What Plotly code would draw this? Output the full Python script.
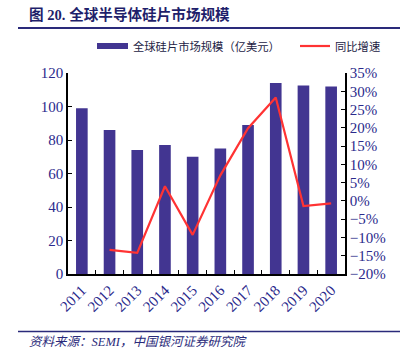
import plotly.graph_objects as go

years = ["2011", "2012", "2013", "2014", "2015", "2016", "2017", "2018", "2019", "2020"]
market = [99, 86, 74, 77, 70, 75, 89, 114, 112.5, 112]
growth_years = ["2012", "2013", "2014", "2015", "2016", "2017", "2018", "2019", "2020"]
growth = [-13.4, -14.2, 4.0, -9.3, 7.0, 19.9, 28.3, -1.4, -0.7]

bar_name = "全球硅片市场规模（亿美元）"
line_name = "同比增速"
title_text = "图 20. 全球半导体硅片市场规模"
source_text = "资料来源：SEMI，中国银河证券研究院"

W, H = 403, 352
L, R, T, B = 68, 345, 73, 274  # plot area in pixels

def px(x):
    return (x - L) / (R - L)

def py(y):
    return (B - y) / (B - T)

BAR = "#423591"
RED = "#FF3333"
NAVY = "#2B2A8C"
SERIF = "Liberation Serif, Noto Sans CJK SC"

fig = go.Figure()
fig.add_trace(go.Bar(x=years, y=market, name=bar_name, marker=dict(color=BAR, line=dict(width=0)),
                     yaxis="y", showlegend=False))
fig.add_trace(go.Scatter(x=growth_years, y=growth, name=line_name, mode="lines",
                         line=dict(color=RED, width=2.2), yaxis="y2", showlegend=False))

fig.update_layout(
    width=W, height=H,
    margin=dict(l=L, r=W - R, t=T, b=H - B, pad=0),
    paper_bgcolor="white", plot_bgcolor="white",
    bargap=0.58,
    xaxis=dict(type="category", tickson="boundaries", ticks="inside", ticklen=4, tickcolor="black",
               showline=True, linecolor="black", linewidth=1.5, tickangle=-45,
               tickfont=dict(family=SERIF, size=15, color=NAVY), showgrid=False,
               range=[-0.5, 9.5]),
    yaxis=dict(range=[0, 120], dtick=20, ticks="inside", ticklen=4, tickcolor="black",
               showline=True, linecolor="black", linewidth=1.5, showgrid=False, zeroline=False,
               tickfont=dict(family=SERIF, size=15, color=NAVY)),
    yaxis2=dict(range=[-20, 35], dtick=5, ticks="inside", ticklen=4, tickcolor="black",
                overlaying="y", side="right", ticksuffix="%",
                showline=True, linecolor="black", linewidth=1.5, showgrid=False, zeroline=False,
                tickfont=dict(family=SERIF, size=15, color=NAVY)),
    font=dict(family=SERIF),
)

shapes = [
    dict(type="line", xref="paper", yref="paper", x0=px(18), x1=px(400), y0=py(28), y1=py(28),
         line=dict(color="#2A2A7A", width=2)),
    dict(type="line", xref="paper", yref="paper", x0=px(18), x1=px(400), y0=py(331.5), y1=py(331.5),
         line=dict(color="#2A2A7A", width=1.5)),
    dict(type="rect", xref="paper", yref="paper", x0=px(97), x1=px(128), y0=py(49), y1=py(43),
         fillcolor=BAR, line=dict(width=0)),
    dict(type="line", xref="paper", yref="paper", x0=px(300), x1=px(330), y0=py(46), y1=py(46),
         line=dict(color=RED, width=2.2)),
]
fig.update_layout(shapes=shapes)

annotations = [
    dict(text="<b>" + title_text + "</b>", xref="paper", yref="paper", x=px(27), y=py(15),
         xanchor="left", yanchor="middle", showarrow=False,
         font=dict(family=SERIF, size=14.6, color="#1F1F6B")),
    dict(text=bar_name, xref="paper", yref="paper", x=px(131), y=py(46),
         xanchor="left", yanchor="middle", showarrow=False,
         font=dict(family="Noto Sans CJK SC", size=11.3, color="#222244")),
    dict(text=line_name, xref="paper", yref="paper", x=px(333), y=py(46),
         xanchor="left", yanchor="middle", showarrow=False,
         font=dict(family="Noto Sans CJK SC", size=11.3, color="#222244")),
    dict(text="<i>" + source_text + "</i>", xref="paper", yref="paper", x=px(27), y=py(342),
         xanchor="left", yanchor="middle", showarrow=False,
         font=dict(family=SERIF, size=12.5, color="#2A2A7A")),
]
fig.update_layout(annotations=annotations)

fig.write_html("out.html")
